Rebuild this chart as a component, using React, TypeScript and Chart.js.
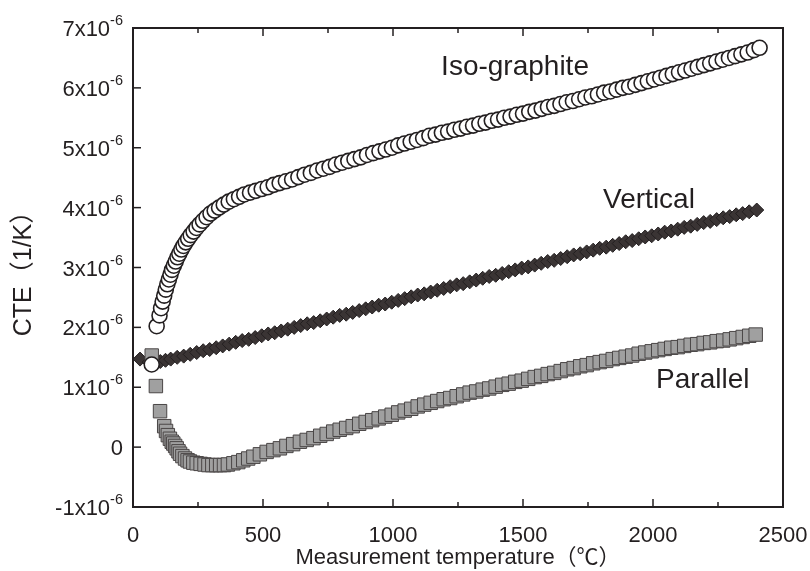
import React, { useEffect, useRef } from 'react';
import { Chart, registerables } from 'chart.js';

Chart.register(...registerables);

const INK = '#231f20';
const FONT = '"Liberation Sans", Arial, "Noto Sans CJK JP", sans-serif';

// CTE values are stored in units of 1x10^-6 /K
const CTE_EXPONENT = '-6';

// Iso-graphite
const isoTemp = [
  72, 91, 102, 108, 114, 120, 126, 132, 138, 144, 150, 157, 164, 171, 178, 186, 194, 203, 212, 222,
  233, 244, 256, 269, 283, 298, 314, 331, 349, 368, 388, 408, 428, 450, 472, 495, 518, 541, 564, 588,
  612, 636, 660, 684, 708, 732, 756, 780, 804, 828, 852, 876, 900, 924, 948, 972, 996, 1020, 1044, 1068,
  1092, 1116, 1140, 1164, 1188, 1212, 1236, 1260, 1284, 1308, 1332, 1356, 1380, 1404, 1428, 1452, 1476, 1500, 1524, 1548,
  1572, 1596, 1620, 1644, 1668, 1692, 1716, 1740, 1764, 1788, 1812, 1836, 1860, 1884, 1908, 1932, 1956, 1980, 2004, 2028,
  2052, 2076, 2100, 2124, 2148, 2172, 2196, 2220, 2244, 2268, 2292, 2316, 2340, 2364, 2388, 2410,
];
const isoCte = [
  1.38, 2.02, 2.2, 2.32, 2.43, 2.53, 2.63, 2.72, 2.8, 2.88, 2.96, 3.03, 3.1, 3.17, 3.23, 3.3, 3.36, 3.42, 3.48, 3.54,
  3.6, 3.66, 3.72, 3.78, 3.84, 3.9, 3.95, 4.0, 4.05, 4.1, 4.14, 4.18, 4.22, 4.25, 4.28, 4.31, 4.34, 4.38, 4.41, 4.44,
  4.47, 4.51, 4.55, 4.58, 4.62, 4.65, 4.68, 4.72, 4.75, 4.78, 4.81, 4.84, 4.88, 4.91, 4.94, 4.97, 5.0, 5.04, 5.07, 5.1,
  5.13, 5.16, 5.2, 5.22, 5.25, 5.27, 5.3, 5.32, 5.35, 5.37, 5.4, 5.42, 5.45, 5.47, 5.5, 5.52, 5.55, 5.57, 5.6, 5.62,
  5.65, 5.68, 5.7, 5.73, 5.76, 5.78, 5.81, 5.84, 5.86, 5.89, 5.92, 5.94, 5.97, 6.0, 6.02, 6.05, 6.08, 6.11, 6.14, 6.17,
  6.2, 6.23, 6.26, 6.29, 6.32, 6.35, 6.38, 6.41, 6.44, 6.47, 6.5, 6.53, 6.56, 6.59, 6.63, 6.67,
];

// Vertical
const vertTemp = [
  27, 62, 85, 105, 125, 145, 170, 195, 220, 245, 270, 295, 320, 345, 370, 395, 420, 445, 470, 495,
  520, 545, 570, 595, 620, 645, 670, 695, 720, 745, 770, 795, 820, 845, 870, 895, 920, 945, 970, 995,
  1020, 1045, 1070, 1095, 1120, 1145, 1170, 1195, 1220, 1245, 1270, 1295, 1320, 1345, 1370, 1395, 1420, 1445, 1470, 1495,
  1520, 1545, 1570, 1595, 1620, 1645, 1670, 1695, 1720, 1745, 1770, 1795, 1820, 1845, 1870, 1895, 1920, 1945, 1970, 1995,
  2020, 2045, 2070, 2095, 2120, 2145, 2170, 2195, 2220, 2245, 2270, 2295, 2320, 2345, 2370, 2399,
];
const vertCte = [
  1.47, 1.42, 1.41, 1.43, 1.45, 1.47, 1.5, 1.52, 1.55, 1.58, 1.61, 1.63, 1.66, 1.69, 1.72, 1.75, 1.78, 1.8, 1.83, 1.86,
  1.89, 1.91, 1.94, 1.97, 2.0, 2.03, 2.06, 2.08, 2.11, 2.14, 2.17, 2.2, 2.22, 2.25, 2.28, 2.31, 2.34, 2.37, 2.39, 2.42,
  2.45, 2.48, 2.51, 2.54, 2.56, 2.59, 2.62, 2.65, 2.68, 2.71, 2.73, 2.76, 2.79, 2.82, 2.85, 2.87, 2.9, 2.93, 2.96, 2.99,
  3.01, 3.04, 3.07, 3.1, 3.12, 3.15, 3.18, 3.21, 3.23, 3.26, 3.29, 3.32, 3.34, 3.37, 3.4, 3.43, 3.45, 3.48, 3.51, 3.53,
  3.56, 3.59, 3.61, 3.64, 3.67, 3.69, 3.72, 3.75, 3.77, 3.8, 3.83, 3.85, 3.88, 3.9, 3.93, 3.96,
];

// Parallel
const paraTemp = [
  72, 88, 104, 120, 127, 134, 142, 149, 155, 162, 168, 175, 181, 190, 200, 210, 219, 232, 245, 260,
  275, 290, 305, 320, 335, 350, 365, 386, 405, 424, 443, 463, 488, 514, 540, 565, 590, 616, 642, 668,
  694, 720, 745, 770, 795, 820, 845, 870, 895, 920, 945, 970, 995, 1020, 1045, 1070, 1095, 1120, 1145, 1170,
  1195, 1220, 1245, 1270, 1295, 1320, 1345, 1370, 1395, 1420, 1445, 1470, 1495, 1520, 1545, 1570, 1595, 1620, 1645, 1670,
  1695, 1720, 1745, 1770, 1795, 1820, 1845, 1870, 1895, 1920, 1945, 1970, 1995, 2020, 2045, 2070, 2095, 2120, 2145, 2170,
  2195, 2220, 2245, 2270, 2295, 2320, 2345, 2370, 2395,
];
const paraCte = [
  1.53, 1.02, 0.6, 0.35, 0.27, 0.2, 0.14, 0.09, 0.06, 0.02, -0.02, -0.07, -0.11, -0.15, -0.19, -0.22, -0.24, -0.26, -0.27, -0.28,
  -0.29, -0.3, -0.3, -0.3, -0.3, -0.3, -0.29, -0.27, -0.25, -0.22, -0.19, -0.16, -0.12, -0.08, -0.05, -0.02, 0.02, 0.05, 0.09, 0.12,
  0.15, 0.19, 0.22, 0.26, 0.29, 0.32, 0.35, 0.39, 0.42, 0.45, 0.48, 0.51, 0.54, 0.58, 0.61, 0.64, 0.68, 0.71, 0.74, 0.77,
  0.8, 0.82, 0.85, 0.88, 0.91, 0.93, 0.96, 0.98, 1.01, 1.04, 1.06, 1.09, 1.11, 1.14, 1.17, 1.19, 1.22, 1.24, 1.27, 1.3,
  1.32, 1.35, 1.37, 1.4, 1.42, 1.44, 1.47, 1.49, 1.51, 1.53, 1.56, 1.58, 1.6, 1.62, 1.64, 1.66, 1.67, 1.69, 1.71, 1.72,
  1.74, 1.75, 1.77, 1.78, 1.8, 1.82, 1.84, 1.86, 1.88,
];

const xRange = { min: 0, max: 2500, step: 500 };
const yRange = { min: -1, max: 7, step: 1 };

const xTitle = 'Measurement temperature（℃）';
const yTitle = 'CTE（1/K）';

// Series names, anchored in data coordinates (temperature, CTE) at the text's left baseline
const seriesNames = [
  { text: 'Iso-graphite', t: 1185, v: 6.22 },
  { text: 'Vertical', t: 1808, v: 4.0 },
  { text: 'Parallel', t: 2012, v: 0.98 },
];

const toPoints = (t: number[], v: number[]) => t.map((x, i) => ({ x, y: v[i] }));

const framePlugin = {
  id: 'frameAndLabels',
  afterDraw(chart: any) {
    const { ctx, chartArea: a, scales } = chart;
    const xs = scales.x;
    const ys = scales.y;
    ctx.save();
    ctx.strokeStyle = INK;
    ctx.fillStyle = INK;

    // frame
    ctx.lineWidth = 2;
    ctx.strokeRect(a.left, a.top, a.right - a.left, a.bottom - a.top);

    const seg = (x1: number, y1: number, x2: number, y2: number) => {
      ctx.beginPath();
      ctx.moveTo(x1, y1);
      ctx.lineTo(x2, y2);
      ctx.stroke();
    };

    // x ticks (inward, bottom and top) with minor ticks halfway
    ctx.lineWidth = 1.5;
    const xt = xs.ticks;
    xt.forEach((tk: any, i: number) => {
      const px = xs.getPixelForValue(tk.value);
      seg(px, a.bottom, px, a.bottom - 8);
      seg(px, a.top, px, a.top + 8);
      if (i < xt.length - 1) {
        const pm = xs.getPixelForValue((tk.value + xt[i + 1].value) / 2);
        seg(pm, a.bottom, pm, a.bottom - 5);
        seg(pm, a.top, pm, a.top + 5);
      }
    });
    // y ticks (inward, left only)
    ys.ticks.forEach((tk: any) => {
      const py = ys.getPixelForValue(tk.value);
      seg(a.left, py, a.left + 8, py);
    });

    // x tick labels
    ctx.font = `22px ${FONT}`;
    ctx.textAlign = 'center';
    ctx.textBaseline = 'middle';
    xt.forEach((tk: any) => {
      const px = xs.getPixelForValue(tk.value);
      ctx.fillText(String(Math.round(tk.value)), px, a.bottom + 29);
    });

    // y tick labels: N x 10^-6
    ctx.textAlign = 'right';
    ctx.textBaseline = 'alphabetic';
    const right = a.left - 10;
    ys.ticks.forEach((tk: any) => {
      const py = ys.getPixelForValue(tk.value);
      const m = Math.round(tk.value);
      if (m === 0) {
        ctx.font = `22px ${FONT}`;
        ctx.fillText('0', right, py + 8);
        return;
      }
      ctx.font = `14.5px ${FONT}`;
      const wSup = ctx.measureText(CTE_EXPONENT).width;
      ctx.fillText(CTE_EXPONENT, right, py - 3);
      ctx.font = `22px ${FONT}`;
      ctx.fillText(`${m}x10`, right - wSup, py + 8);
    });

    // axis titles
    ctx.textAlign = 'center';
    ctx.textBaseline = 'middle';
    ctx.font = `22px ${FONT}`;
    ctx.fillText(xTitle, (a.left + a.right) / 2, a.bottom + 51);
    ctx.save();
    ctx.translate(24, (a.top + a.bottom) / 2);
    ctx.rotate(-Math.PI / 2);
    ctx.font = `25px ${FONT}`;
    ctx.fillText(yTitle, 0, 0);
    ctx.restore();

    // series names
    ctx.textAlign = 'left';
    ctx.textBaseline = 'alphabetic';
    ctx.font = `28px ${FONT}`;
    seriesNames.forEach((s) => {
      ctx.fillText(s.text, xs.getPixelForValue(s.t), ys.getPixelForValue(s.v));
    });

    ctx.restore();
  },
};

export default function App() {
  const canvasRef = useRef<HTMLCanvasElement | null>(null);

  useEffect(() => {
    const canvas = canvasRef.current;
    if (!canvas) return;
    const chart = new Chart(canvas, {
      type: 'scatter',
      data: {
        datasets: [
          {
            label: 'Iso-graphite',
            data: toPoints(isoTemp, isoCte),
            pointStyle: 'circle',
            pointRadius: 7.5,
            pointBackgroundColor: '#ffffff',
            pointBorderColor: INK,
            pointBorderWidth: 1.6,
          },
          {
            label: 'Parallel',
            data: toPoints(paraTemp, paraCte),
            pointStyle: 'rect',
            pointRadius: 9.5,
            pointBackgroundColor: '#a0a0a0',
            pointBorderColor: '#4a4646',
            pointBorderWidth: 1,
          },
          {
            label: 'Vertical',
            data: toPoints(vertTemp, vertCte),
            pointStyle: 'rectRot',
            pointRadius: 7,
            pointBackgroundColor: '#3a3434',
            pointBorderColor: INK,
            pointBorderWidth: 1,
          },
        ],
      },
      options: {
        animation: false,
        responsive: false,
        devicePixelRatio: 1,
        events: [],
        layout: { padding: { top: 28, right: 27, bottom: 0, left: 0 } },
        plugins: {
          legend: { display: false },
          tooltip: { enabled: false },
        },
        scales: {
          x: {
            type: 'linear',
            min: xRange.min,
            max: xRange.max,
            ticks: { display: false, stepSize: xRange.step },
            grid: { display: false },
            border: { display: false },
            afterFit: (s: any) => {
              s.height = 64;
            },
          },
          y: {
            type: 'linear',
            min: yRange.min,
            max: yRange.max,
            ticks: { display: false, stepSize: yRange.step },
            grid: { display: false },
            border: { display: false },
            afterFit: (s: any) => {
              s.width = 133;
            },
          },
        },
      },
      plugins: [framePlugin],
    });
    return () => chart.destroy();
  }, []);

  return (
    <div style={{ position: 'fixed', left: 0, top: 0, width: 810, height: 571, background: '#ffffff' }}>
      <canvas ref={canvasRef} width={810} height={571} />
    </div>
  );
}
